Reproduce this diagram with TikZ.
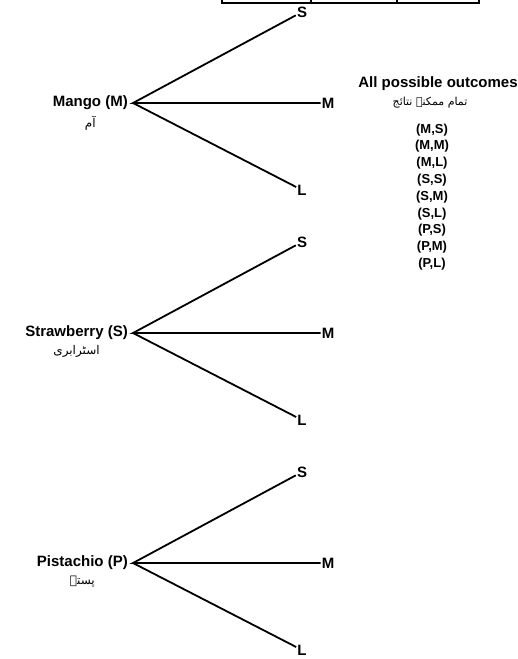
\documentclass[tikz,border=0pt]{standalone}
\usepackage{fontspec}
\setmainfont{Liberation Sans}
\newfontfamily\urdufont[Script=Arabic]{DejaVu Sans}
\TeXXeTstate=1
\usetikzlibrary{positioning}

\begin{document}
\begin{tikzpicture}[x=1pt,y=-1pt,font=\bfseries\fontsize{15}{18}\selectfont]
            \useasboundingbox (0,0) rectangle (518,659);
            \clip (0,0) rectangle (518,659);
            % edge of the table above
            \draw[line width=1.2pt] (222,-10) rectangle (479,3);
            \draw[line width=1.2pt] (311,-10)--(311,3) (397,-10)--(397,3);
            % one tree for each flavour
            \foreach \t/\y/\fruit/\urdu in {m/103/Mango (M)/آم, s/333/Strawberry (S)/اسٹرابری, p/563/Pistachio (P)/پستہ}{
                    \coordinate (\t-root) at (133,\y);
                    \node[anchor=east,inner sep=1pt] (\t-name) at (129,\y) {\fruit};
                    \node[below=1pt of \t-name,font=\urdufont\fontsize{12}{14}\selectfont] (\t-urdu) {\beginR\urdu\endR};
                    \node[inner sep=1pt] (\t-S) at (302,\y-91) {S};
                    \node[inner sep=1pt] (\t-M) at (328,\y) {M};
                    \node[inner sep=1pt] (\t-L) at (302,\y+87) {L};
                    \draw[line width=1.8pt] (\t-S)--(\t-root)--(\t-M);
                    \draw[line width=1.8pt] (\t-root)--(\t-L);
                }
            \node (head) at (438,84) {All possible outcomes};
            \node[font=\urdufont\fontsize{11}{13}\selectfont] (head-urdu) at (430,103) {\beginR تمام ممکنہ نتائج\endR};
            \foreach \o [count=\i] in {{(M,S)},{(M,M)},{(M,L)},{(S,S)},{(S,M)},{(S,L)},{(P,S)},{(P,M)},{(P,L)}}{
                    \node[font=\bfseries\fontsize{13}{15}\selectfont] (out\i) at (432,113+16.8*\i) {\o};
                }
        \end{tikzpicture}
\end{document}
